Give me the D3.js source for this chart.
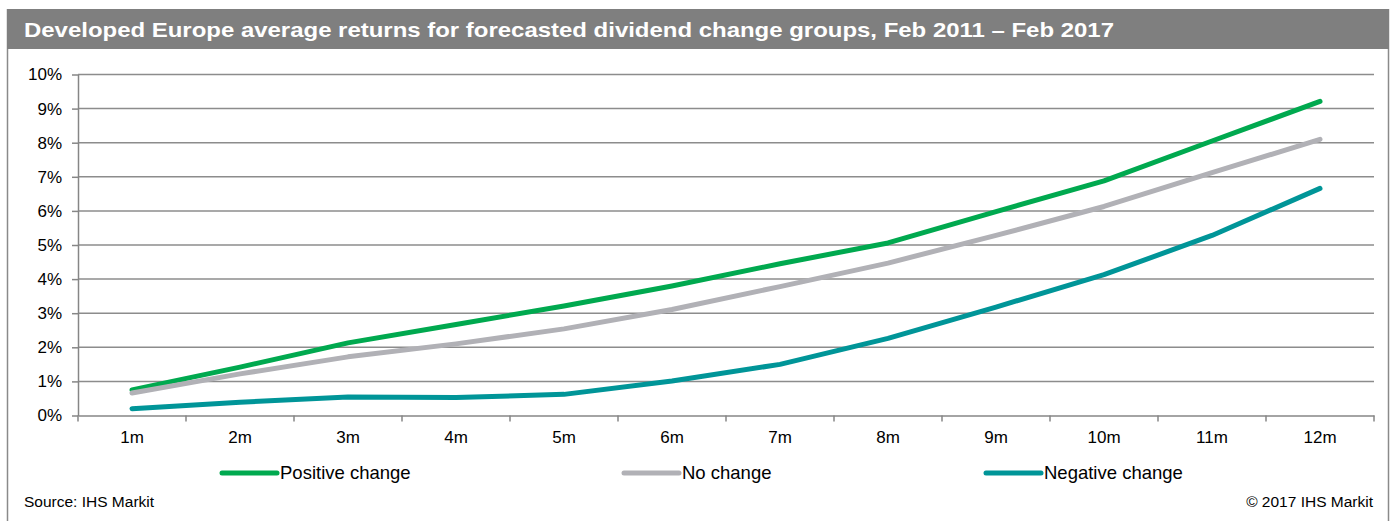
<!DOCTYPE html>
<html>
<head>
<meta charset="utf-8">
<script src="https://cdn.jsdelivr.net/npm/d3@7"></script>
<style>
  body { margin: 0; background: #fff; }
  svg { display: block; font-family: "Liberation Sans", Arial, sans-serif; }
</style>
</head>
<body>
<script>
const w = 1392;
const h = 521;
const months = ["1m", "2m", "3m", "4m", "5m", "6m", "7m", "8m", "9m", "10m", "11m", "12m"];
const positive = [0.75, 1.42, 2.13, 2.67, 3.21, 3.8, 4.45, 5.06, 5.98, 6.88, 8.05, 9.21];
const noChange = [0.66, 1.22, 1.72, 2.1, 2.54, 3.11, 3.78, 4.47, 5.28, 6.13, 7.12, 8.1];
const negative = [0.2, 0.39, 0.54, 0.53, 0.62, 1.01, 1.5, 2.26, 3.18, 4.13, 5.28, 6.66];
const yTicks = [0, 1, 2, 3, 4, 5, 6, 7, 8, 9, 10];
const seriesNames = ["Positive change", "No change", "Negative change"];
const seriesColors = ["#00a94f", "#b1b1b6", "#009598"];

const plot = { left: 78, right: 1374, top: 74.5, bottom: 415.5 };

const svg = d3.select("body").append("svg").attr("width", w).attr("height", h);

// frame + title bar
svg.append("line").attr("x1", 7.5).attr("x2", 7.5).attr("y1", 9).attr("y2", h)
  .attr("stroke", "#8a8a8a").attr("stroke-width", 1.5);
svg.append("line").attr("x1", 1388.5).attr("x2", 1388.5).attr("y1", 9).attr("y2", h)
  .attr("stroke", "#8a8a8a").attr("stroke-width", 1.5);
svg.append("rect").attr("x", 7).attr("y", 9).attr("width", 1382).attr("height", 40)
  .attr("fill", "#7f7f7f");
svg.append("text")
  .text("Developed Europe average returns for forecasted dividend change groups, Feb 2011 \u2013 Feb 2017")
  .attr("x", 24).attr("y", 37)
  .attr("textLength", 1090).attr("lengthAdjust", "spacingAndGlyphs")
  .attr("fill", "#fff").attr("font-weight", "bold").attr("font-size", 21);

const xScale = d3.scaleBand().domain(months).range([plot.left, plot.right]);
const yScale = d3.scaleLinear().domain([0, 10]).range([plot.bottom, plot.top]);

// gridlines
svg.append("g")
  .selectAll("line")
  .data(yTicks.filter((d) => d > 0))
  .enter()
  .append("line")
  .attr("x1", plot.left).attr("x2", plot.right)
  .attr("y1", (d) => yScale(d)).attr("y2", (d) => yScale(d))
  .attr("stroke", "#8c8c8c").attr("stroke-width", 1.5);

// y axis
const yAxis = d3.axisLeft(yScale).tickValues(yTicks).tickFormat((d) => d + "%").tickSize(6).tickSizeOuter(0);
const gy = svg.append("g").attr("transform", `translate(${plot.left}, 0)`).call(yAxis);
gy.select(".domain").attr("stroke", "#868686").attr("stroke-width", 1.5);
gy.selectAll(".tick line").attr("stroke", "#868686").attr("stroke-width", 1.5);
gy.selectAll(".tick text").attr("x", -16).attr("font-size", 17).attr("fill", "#000")
  .attr("font-family", "Liberation Sans, Arial, sans-serif");

// x axis, ticks between categories
const xAxis = d3.axisBottom(xScale).tickSize(0).tickSizeOuter(0);
const gx = svg.append("g").attr("transform", `translate(0, ${plot.bottom})`).call(xAxis);
gx.select(".domain").attr("stroke", "#868686").attr("stroke-width", 1.5);
gx.selectAll(".tick text").attr("y", 15).attr("font-size", 17).attr("fill", "#000")
  .attr("font-family", "Liberation Sans, Arial, sans-serif");
gx.selectAll(".boundary")
  .data(months.concat([null]))
  .enter()
  .append("line")
  .attr("class", "boundary")
  .attr("x1", (d, i) => plot.left + i * xScale.step())
  .attr("x2", (d, i) => plot.left + i * xScale.step())
  .attr("y1", 0).attr("y2", 6)
  .attr("stroke", "#868686").attr("stroke-width", 1.5);

// lines
const allSeries = [positive, noChange, negative];
const line = d3.line()
  .x((d, i) => xScale(months[i]) + xScale.bandwidth() / 2)
  .y((d) => yScale(d));
svg.append("g")
  .selectAll("path")
  .data(allSeries)
  .enter()
  .append("path")
  .attr("d", (d) => line(d))
  .attr("fill", "none")
  .attr("stroke", (d, i) => seriesColors[i])
  .attr("stroke-width", 5)
  .attr("stroke-linecap", "round")
  .attr("stroke-linejoin", "round");

// legend
const legendX = [222, 624, 986];
const legend = svg.append("g").attr("id", "legend");
seriesNames.forEach((name, i) => {
  legend.append("line")
    .attr("x1", legendX[i]).attr("x2", legendX[i] + 55)
    .attr("y1", 473).attr("y2", 473)
    .attr("stroke", seriesColors[i]).attr("stroke-width", 5).attr("stroke-linecap", "round");
  legend.append("text")
    .text(name)
    .attr("x", legendX[i] + 58).attr("y", 479)
    .attr("font-size", 18.5).attr("fill", "#000");
});

// footer
svg.append("text").text("Source: IHS Markit")
  .attr("x", 24).attr("y", 507).attr("font-size", 15.5).attr("fill", "#000");
svg.append("text").text("\u00a9 2017 IHS Markit")
  .attr("x", 1373).attr("y", 507).attr("text-anchor", "end").attr("font-size", 15.5).attr("fill", "#000");
</script>
</body>
</html>
